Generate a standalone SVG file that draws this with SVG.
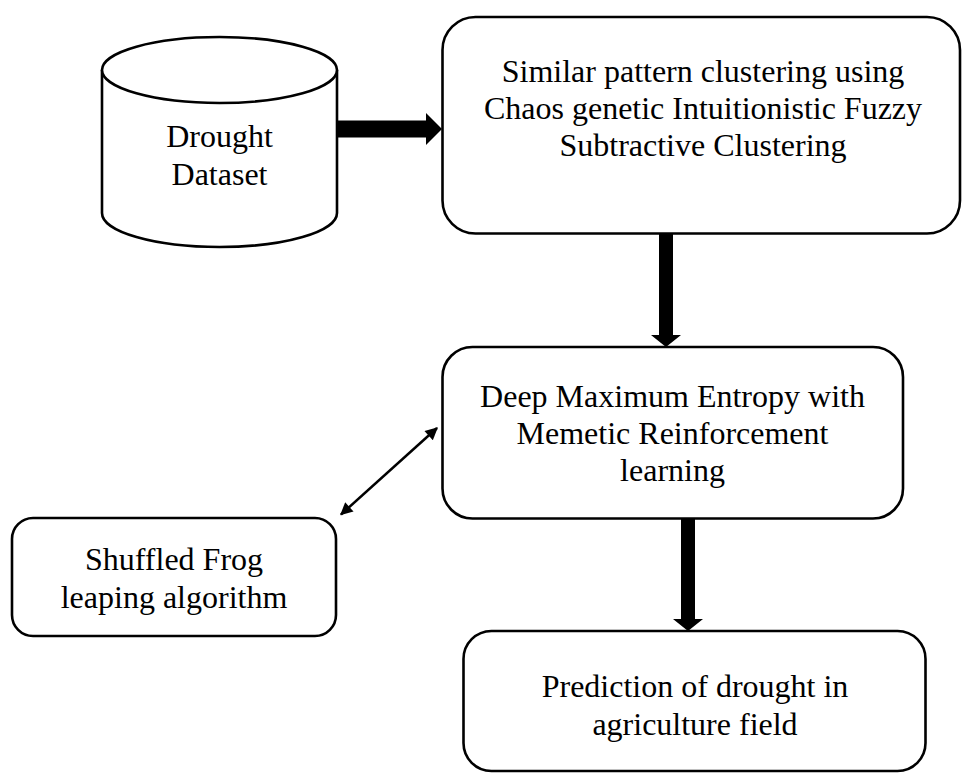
<svg xmlns="http://www.w3.org/2000/svg" width="962" height="774" viewBox="0 0 962 774">
<style>
.box{fill:#fff;stroke:#000;stroke-width:2.6}
.t{font-family:"Liberation Serif","Times New Roman",serif;font-size:32px;fill:#000;text-anchor:middle}
.thick{fill:#000;stroke:none}
.thin{stroke:#000;stroke-width:2.5;fill:none}
</style>
<defs>
<marker id="ah" viewBox="0 0 10 10" refX="9" refY="5" markerWidth="6" markerHeight="5" markerUnits="strokeWidth" orient="auto-start-reverse">
<path d="M0,0 L10,5 L0,10 z" fill="#000"/>
</marker>
</defs>
<rect width="962" height="774" fill="#fff"/>
<g id="dataset">
<path class="box" d="M102,70 L102,213 A117.5,34 0 0 0 337,213 L337,70"/>
<ellipse class="box" cx="219.5" cy="70" rx="117.5" ry="33"/>
<text class="t" x="219.5" y="147">Drought</text>
<text class="t" x="219.5" y="185">Dataset</text>
</g>
<g id="clustering">
<rect class="box" x="442.5" y="17" width="517.5" height="216.5" rx="33" ry="33"/>
<text class="t" x="703" y="82">Similar pattern clustering using</text>
<text class="t" x="703" y="119">Chaos genetic Intuitionistic Fuzzy</text>
<text class="t" x="703" y="156">Subtractive Clustering</text>
</g>
<g id="deepmaxent">
<rect class="box" x="442.5" y="347" width="460.5" height="171.5" rx="30" ry="30"/>
<text class="t" x="672.5" y="407">Deep Maximum Entropy with</text>
<text class="t" x="672.5" y="444">Memetic Reinforcement</text>
<text class="t" x="672.5" y="481">learning</text>
</g>
<g id="sfla">
<rect class="box" x="12" y="518" width="324" height="118" rx="21" ry="21"/>
<text class="t" x="174" y="570">Shuffled Frog</text>
<text class="t" x="174" y="608">leaping algorithm</text>
</g>
<g id="prediction">
<rect class="box" x="463.5" y="631" width="462" height="140" rx="28" ry="28"/>
<text class="t" x="695" y="697">Prediction of drought in</text>
<text class="t" x="695" y="735">agriculture field</text>
</g>
<g id="connectors">
<path class="thick" d="M337,120.5 L426,120.5 L426,113 L442,129 L426,145 L426,137.5 L337,137.5 z"/>
<path class="thick" d="M659,233 L673,233 L673,335 L681,335 L666,347 L651,335 L659,335 z"/>
<path class="thick" d="M681,518 L695,518 L695,619 L703,619 L688,631 L673,619 L681,619 z"/>
<line class="thin" x1="341" y1="514.5" x2="437" y2="428" marker-start="url(#ah)" marker-end="url(#ah)"/>
</g>
</svg>
